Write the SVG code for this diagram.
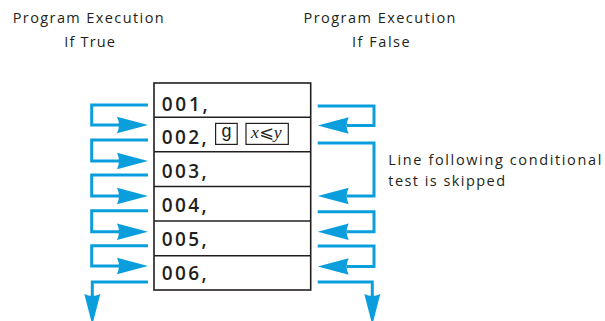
<svg xmlns="http://www.w3.org/2000/svg" width="605" height="321" viewBox="0 0 605 321">
<style>
  .lbl{font-family:"Open Sans","Liberation Sans",sans-serif;font-size:14.5px;fill:#231f20}
  .num{font-family:"Open Sans","Liberation Sans",sans-serif;font-size:19px;font-weight:600;fill:#231f20}
  .cell{fill:#fff;stroke:#231f20;stroke-width:1.6}
  .key{fill:#fff;stroke:#231f20;stroke-width:1.2}
  .wire{fill:none;stroke:#0a9fdc;stroke-width:3;stroke-linejoin:miter}
  .head{fill:#0a9fdc}
</style>
<defs>
  <path id="hr" d="M0,0 L-31,-8.3 Q-27,0 -31,8.3 Z"/>
  <path id="hl" d="M0,0 L31,-8.3 Q27,0 31,8.3 Z"/>
  <path id="hd" d="M0,0 L-8,-31 Q0,-27 8,-31 Z"/>
</defs>

<g id="header-true">
  <text class="lbl" x="12.7" y="22.7" textLength="151" lengthAdjust="spacing">Program Execution</text>
  <text class="lbl" x="64.3" y="46.7" textLength="50.7" lengthAdjust="spacing">If True</text>
</g>
<g id="header-false">
  <text class="lbl" x="303.5" y="22.7" textLength="152" lengthAdjust="spacing">Program Execution</text>
  <text class="lbl" x="352" y="46.7" textLength="57.7" lengthAdjust="spacing">If False</text>
</g>
<g id="note">
  <text class="lbl" x="388.3" y="165" textLength="213" lengthAdjust="spacing">Line following conditional</text>
  <text class="lbl" x="388.3" y="186" textLength="116.7" lengthAdjust="spacing">test is skipped</text>
</g>

<g id="program">
  <rect class="cell" x="154" y="83" width="156.7" height="207"/>
  <g id="line-001">
    <text class="num" x="161.7" y="110.5" textLength="46" lengthAdjust="spacing">001,</text>
  </g>
  <g id="line-002">
    <line class="cell" x1="154" y1="117.3" x2="310.7" y2="117.3"/>
    <text class="num" x="161.7" y="144" textLength="45" lengthAdjust="spacing">002,</text>
    <rect class="key" x="215.6" y="123.4" width="21.6" height="21"/>
    <text x="226.4" y="137" text-anchor="middle" style="font-family:'Liberation Sans',sans-serif;font-size:18px;fill:#231f20">g</text>
    <rect class="key" x="246" y="123.4" width="42.3" height="21"/>
    <text x="251" y="138" textLength="30.7" lengthAdjust="spacingAndGlyphs" style="font-family:'Liberation Serif',serif;font-size:17px;fill:#231f20"><tspan font-style="italic">x</tspan><tspan style="font-family:'DejaVu Sans',sans-serif">⩽</tspan><tspan font-style="italic">y</tspan></text>
  </g>
  <g id="line-003">
    <line class="cell" x1="154" y1="151.7" x2="310.7" y2="151.7"/>
    <text class="num" x="161.7" y="177.5" textLength="45" lengthAdjust="spacing">003,</text>
  </g>
  <g id="line-004">
    <line class="cell" x1="154" y1="186.5" x2="310.7" y2="186.5"/>
    <text class="num" x="161.7" y="212" textLength="45" lengthAdjust="spacing">004,</text>
  </g>
  <g id="line-005">
    <line class="cell" x1="154" y1="221" x2="310.7" y2="221"/>
    <text class="num" x="161.7" y="246" textLength="45" lengthAdjust="spacing">005,</text>
  </g>
  <g id="line-006">
    <line class="cell" x1="154" y1="255.7" x2="310.7" y2="255.7"/>
    <text class="num" x="161.7" y="280" textLength="45" lengthAdjust="spacing">006,</text>
  </g>
</g>

<g id="connectors">
  <g id="true-path">
    <path class="wire" d="M148,105 H91.7 V125 H119"/>
    <use href="#hr" class="head" x="148" y="125"/>
    <path class="wire" d="M148,140 H91.7 V161 H119"/>
    <use href="#hr" class="head" x="148" y="161"/>
    <path class="wire" d="M148,175 H91.7 V196 H119"/>
    <use href="#hr" class="head" x="148" y="196"/>
    <path class="wire" d="M148,210.7 H91.7 V231.7 H119"/>
    <use href="#hr" class="head" x="148" y="231.7"/>
    <path class="wire" d="M148,245.7 H91.7 V266 H119"/>
    <use href="#hr" class="head" x="148" y="266"/>
    <path class="wire" d="M148,282 H92.3 V296"/>
    <use href="#hd" class="head" x="92.3" y="325"/>
  </g>
  <g id="false-path">
    <path class="wire" d="M317.7,106 H374 V125.5 H347"/>
    <use href="#hl" class="head" x="317.7" y="125.5"/>
    <path class="wire" d="M317.7,143 H374 V196 H347"/>
    <use href="#hl" class="head" x="317.7" y="196"/>
    <path class="wire" d="M317.7,211.7 H374 V231.7 H347"/>
    <use href="#hl" class="head" x="317.7" y="231.7"/>
    <path class="wire" d="M317.7,246 H374 V266.5 H347"/>
    <use href="#hl" class="head" x="317.7" y="266.5"/>
    <path class="wire" d="M317.7,282 H372.3 V296"/>
    <use href="#hd" class="head" x="372.3" y="325"/>
  </g>
</g>
</svg>
